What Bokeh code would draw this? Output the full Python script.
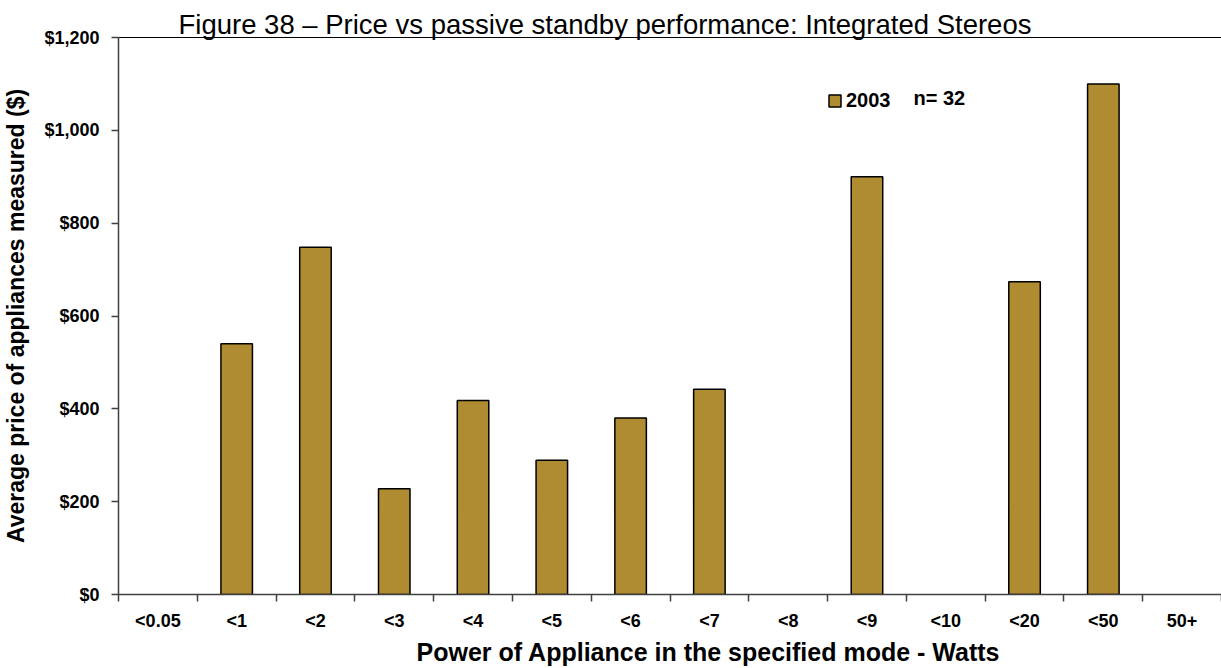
from bokeh.plotting import figure
from bokeh.models import (ColumnDataSource, FixedTicker, NumeralTickFormatter,
                          Range1d, Legend, LegendItem, Label, Title)
from bokeh.embed import file_html
from bokeh.resources import INLINE

categories = ["<0.05", "<1", "<2", "<3", "<4", "<5", "<6", "<7", "<8", "<9",
              "<10", "<20", "<50", "50+"]
prices_2003 = [None, 540, 748, 228, 418, 289, 380, 442, None, 900,
               None, 674, 1100, None]
y_ticks = [0, 200, 400, 600, 800, 1000, 1200]
series_name = "2003"
sample_note = "n= 32"

FONT = "Liberation Sans"
BAR = "#AF8C31"

xs = [i + 0.5 for i, v in enumerate(prices_2003) if v is not None]
tops = [v for v in prices_2003 if v is not None]
src = ColumnDataSource(dict(x=xs, top=tops))

p = figure(frame_width=1103, frame_height=557, output_backend="svg",
           toolbar_location=None,
           x_range=Range1d(0, len(categories)), y_range=Range1d(0, 1200),
           min_border_left=115, min_border_right=3, min_border_top=37,
           min_border_bottom=74)

p.title.text = "Figure 38 \u2013 Price vs passive standby performance: Integrated Stereos"
p.title.text_font = FONT
p.title.text_font_style = "normal"
p.title.text_font_size = "27.5px"
p.title.align = "left"
p.title.offset = 60
p.title.standoff = -4
p.title.text_color = "black"

r = p.vbar(x="x", top="top", width=0.4, bottom=0, source=src,
           fill_color=BAR, line_color="black", line_width=1.5)

p.xgrid.visible = False
p.ygrid.visible = False
p.outline_line_color = "black"
p.outline_line_width = 1
p.background_fill_color = "white"
p.border_fill_color = "white"

# x axis: labels at centres, ticks at boundaries (minor ticks)
xa = p.xaxis[0]
centers = [i + 0.5 for i in range(len(categories))]
xa.ticker = FixedTicker(ticks=centers, minor_ticks=list(range(len(categories) + 1)))
xa.major_label_overrides = {c: lab for c, lab in zip(centers, categories)}
xa.major_tick_out = 0
xa.major_tick_in = 0
xa.minor_tick_out = 7
xa.minor_tick_in = 0
xa.minor_tick_line_color = "#404040"
xa.minor_tick_line_width = 1.5
xa.axis_line_color = "#404040"
xa.axis_line_width = 1.5
xa.major_label_text_font = FONT
xa.major_label_text_font_style = "bold"
xa.major_label_text_font_size = "18px"
xa.major_label_text_color = "black"
xa.major_label_standoff = 9

# x axis title, placed as in the reference (right of centre)
p.add_layout(Title(text="Power of Appliance in the specified mode - Watts",
                   text_font=FONT, text_font_style="bold",
                   text_font_size="25px", text_color="black",
                   align="left", offset=298, standoff=4), "below")

ya = p.yaxis[0]
ya.ticker = FixedTicker(ticks=y_ticks, minor_ticks=[])
ya.formatter = NumeralTickFormatter(format="$0,0")
ya.major_tick_out = 7
ya.major_tick_in = 0
ya.major_tick_line_color = "#404040"
ya.major_tick_line_width = 1.5
ya.minor_tick_out = 0
ya.minor_tick_in = 0
ya.axis_line_color = "#404040"
ya.axis_line_width = 1.5
ya.major_label_text_font = FONT
ya.major_label_text_font_style = "bold"
ya.major_label_text_font_size = "18px"
ya.major_label_text_color = "black"
ya.major_label_standoff = 12
ya.axis_label = "Average price of appliances measured ($)"
ya.axis_label_text_font = FONT
ya.axis_label_text_font_style = "bold"
ya.axis_label_text_font_size = "23px"
ya.axis_label_text_color = "black"
ya.axis_label_standoff = 12

legend = Legend(items=[LegendItem(label=series_name, renderers=[r])],
                location=(709, 482), border_line_color=None,
                background_fill_alpha=0, label_text_font=FONT,
                label_text_font_style="bold", label_text_font_size="20px",
                label_text_color="black",
                glyph_width=15, glyph_height=15, label_standoff=4,
                padding=0, margin=0, spacing=0)
p.add_layout(legend)

p.add_layout(Label(x=795, y=486, x_units="screen", y_units="screen",
                   text=sample_note, text_font=FONT, text_font_style="bold",
                   text_font_size="20px", text_color="black"))

open("out.html", "w").write(file_html(p, INLINE))
